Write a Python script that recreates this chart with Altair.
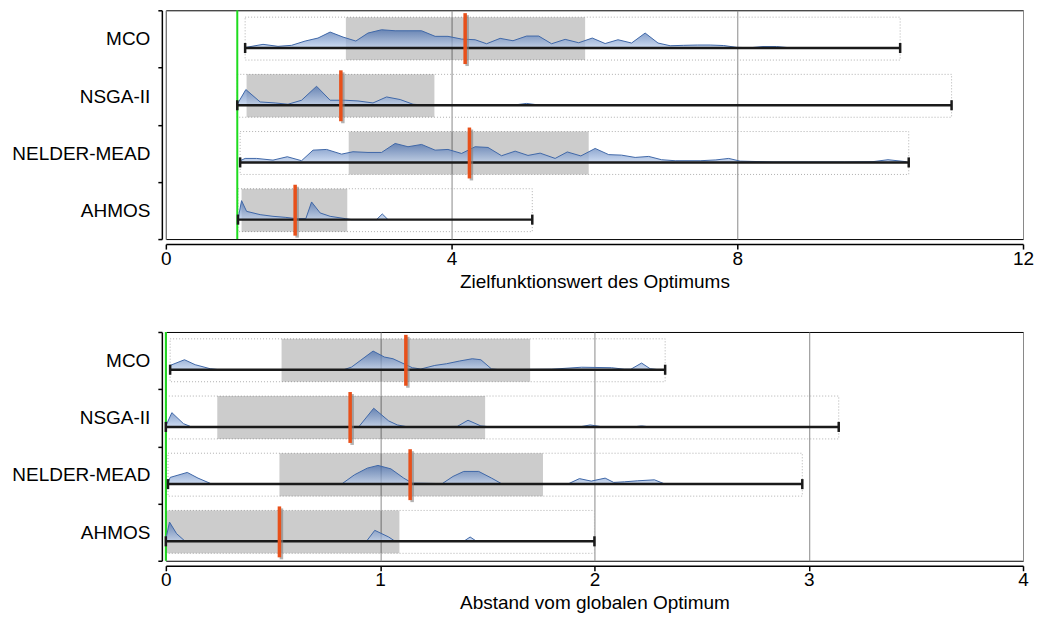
import json
import altair as alt
import pandas as pd

FONT = "Liberation Sans"
methods = ["MCO", "NSGA-II", "NELDER-MEAD", "AHMOS"]

# ---------------- Panel 1: Zielfunktionswert des Optimums ----------------
p1_min = [1.11, 1.00, 1.04, 1.01]
p1_max = [10.28, 11.00, 10.40, 5.13]
p1_q1 = [2.52, 1.13, 2.56, 1.06]
p1_q3 = [5.87, 3.76, 5.92, 2.54]
p1_med = [4.19, 2.45, 4.25, 1.81]
p1_opt = 1.0

p1_mco_x = [1.11, 1.36, 1.57, 1.76, 1.95, 2.13, 2.30, 2.48, 2.66, 2.83, 3.02, 3.21, 3.39, 3.58, 3.77,
            3.95, 4.14, 4.33, 4.49, 4.68, 4.86, 5.05, 5.22, 5.40, 5.59, 5.78, 5.97, 6.15, 6.33, 6.52,
            6.71, 6.89, 7.06, 7.25, 7.44, 7.62, 7.81, 7.99, 8.18, 8.36, 8.55, 8.73, 8.90]
p1_mco_d = [0.5, 3.7, 1.7, 2.7, 7.0, 10.0, 16.0, 11.0, 7.0, 15.0, 18.3, 17.3, 17.3, 17.3, 11.7,
            11.7, 9.0, 8.3, 4.3, 9.7, 7.3, 12.0, 12.0, 4.3, 8.7, 5.3, 10.0, 4.5, 8.3, 5.0,
            15.0, 5.0, 2.3, 2.7, 3.0, 3.0, 2.5, 0.7, 0.3, 1.5, 1.5, 0.3, 0.0]

p1_nsga_x = [1.00, 1.12, 1.32, 1.53, 1.71, 1.90, 2.11, 2.30, 2.51, 2.69, 2.90, 3.09, 3.28, 3.46, 3.66,
             4.85, 5.05, 5.25]
p1_nsga_d = [1.0, 15.7, 3.3, 2.3, 1.0, 5.0, 19.0, 5.0, 5.0, 4.3, 2.3, 8.3, 5.7, 1.0, 0.0,
             0.0, 1.8, 0.0]

p1_nm_x = [1.04, 1.11, 1.27, 1.50, 1.70, 1.90, 2.06, 2.25, 2.46, 2.62, 2.83, 3.02, 3.21, 3.39, 3.58,
           3.77, 3.95, 4.14, 4.33, 4.51, 4.70, 4.89, 5.07, 5.24, 5.45, 5.62, 5.81, 6.01, 6.20, 6.38,
           6.57, 6.76, 6.94, 7.13, 7.48, 7.70, 7.88, 8.04, 8.50, 9.00, 9.50, 9.90, 10.11, 10.37]
p1_nm_d = [1.7, 4.0, 4.0, 2.3, 5.7, 1.7, 12.3, 13.0, 8.3, 10.7, 10.0, 10.0, 19.0, 15.7, 18.0,
           12.3, 13.0, 9.0, 15.7, 15.0, 6.7, 11.3, 7.0, 9.3, 4.0, 10.5, 6.5, 14.0, 7.8, 7.3,
           5.0, 6.0, 2.7, 1.7, 1.7, 2.5, 4.0, 1.3, 0.5, 0.5, 0.5, 0.8, 2.7, 0.7]

p1_ah_x = [1.01, 1.06, 1.13, 1.32, 1.50, 1.67, 1.83, 1.96, 2.04, 2.16, 2.30, 2.51, 2.60, 2.95, 3.03, 3.11]
p1_ah_d = [0.5, 19.0, 8.3, 5.0, 3.3, 2.3, 1.0, 1.0, 17.7, 6.7, 3.3, 1.0, 0.0, 0.0, 5.7, 0.0]

# ---------------- Panel 2: Abstand vom globalen Optimum ----------------
p2_min = [0.02, 0.00, 0.01, 0.00]
p2_max = [2.33, 3.14, 2.97, 2.00]
p2_q1 = [0.54, 0.24, 0.53, 0.00]
p2_q3 = [1.70, 1.49, 1.76, 1.09]
p2_med = [1.12, 0.86, 1.14, 0.53]
p2_opt = 0.0

p2_mco_x = [0.02, 0.087, 0.137, 0.207, 0.25, 0.83, 0.867, 0.967, 1.02, 1.06, 1.15, 1.19, 1.255, 1.31,
            1.37, 1.43, 1.47, 1.52, 1.56, 1.80, 1.94, 2.08, 2.14, 2.17, 2.22, 2.26, 2.30]
p2_mco_d = [4.3, 10.0, 5.0, 1.0, 0.0, 0.0, 2.7, 18.7, 12.7, 11.0, 2.0, 0.7, 4.3, 6.0,
            8.7, 11.0, 10.0, 0.7, 0.0, 0.5, 2.5, 2.0, 0.5, 0.5, 6.7, 1.0, 0.0]

p2_nsga_x = [0.00, 0.028, 0.082, 0.12, 0.90, 0.97, 1.04, 1.08, 1.13, 1.36, 1.41, 1.47, 1.52,
             1.93, 1.98, 2.04, 2.18, 2.22, 2.26]
p2_nsga_d = [1.0, 14.3, 3.3, 0.0, 0.0, 18.7, 6.0, 2.0, 0.0, 0.5, 6.7, 1.0, 0.0,
             0.0, 2.0, 0.0, 0.0, 1.0, 0.0]

p2_nm_x = [0.01, 0.02, 0.10, 0.15, 0.21, 0.82, 0.88, 0.94, 0.99, 1.05, 1.11, 1.15, 1.29, 1.34,
           1.39, 1.46, 1.52, 1.57, 1.875, 1.93, 1.985, 2.05, 2.09, 2.14, 2.20, 2.28, 2.33]
p2_nm_d = [1.0, 6.7, 11.7, 6.0, 0.5, 0.0, 9.3, 16.0, 18.7, 15.3, 6.0, 1.0, 0.5, 7.7,
           12.7, 12.7, 6.0, 0.0, 0.0, 5.5, 3.0, 6.0, 1.7, 2.3, 3.3, 4.3, 0.0]

p2_ah_x = [0.00, 0.017, 0.05, 0.09, 0.936, 0.975, 1.04, 1.07, 1.39, 1.42, 1.45]
p2_ah_d = [2.0, 19.3, 7.7, 0.0, 0.0, 11.0, 4.3, 0.0, 0.0, 4.3, 0.0]

# ---------------- layout constants (fractions of a row band) ----------------
BOX_TOP, BOX_BOT = 0.12, 0.87
LINE_POS = 0.66
MED_TOP, MED_BOT = 0.05, 0.94
CAP_HALF = 0.088
DENS_SCALE = 1.0 / 57.25   # density units -> row units

W, H = 858, 229
IS_EDGE = "datum.value % 1 === 0"

yexpr = IS_EDGE + " ? '' : " + json.dumps(methods) + "[floor(datum.value)]"
yaxis = alt.Axis(
    values=[k / 2 for k in range(9)], labelExpr=yexpr, title=None, grid=False,
    tickOpacity={"condition": {"test": IS_EDGE, "value": 1}, "value": 0},
    labelFontSize={"condition": {"test": IS_EDGE, "value": 0}, "value": 19},
    domainColor="black", domainWidth=1.5, tickColor="black", tickWidth=1.5, tickSize=4,
    offset=4, labelPadding=8, labelColor="black", labelFont=FONT,
    labelOverlap=False, minExtent=153, maxExtent=153,
)
yscale = alt.Scale(domain=[0, 4], reverse=True, nice=False, zero=False)


def panel(mins, maxs, q1s, q3s, meds, opt, dens, domain, ticks, title):
    rows = pd.DataFrame({
        "method": methods, "i": range(4), "lo": mins, "hi": maxs,
        "q1": q1s, "q3": q3s, "med": meds,
    })
    rows["yt"] = rows["i"] + BOX_TOP
    rows["yb"] = rows["i"] + BOX_BOT
    rows["yl"] = rows["i"] + LINE_POS
    rows["mt"] = rows["i"] + MED_TOP
    rows["mb"] = rows["i"] + MED_BOT
    rows["ct"] = rows["yl"] - CAP_HALF
    rows["cb"] = rows["yl"] + CAP_HALF
    caps = pd.concat([
        rows[["method", "lo", "ct", "cb"]].rename(columns={"lo": "pos"}),
        rows[["method", "hi", "ct", "cb"]].rename(columns={"hi": "pos"}),
    ])
    dfs = []
    for i, (xs, ds) in enumerate(dens):
        dfs.append(pd.DataFrame({"method": methods[i], "x": xs,
                                 "top": [i + LINE_POS - d * DENS_SCALE for d in ds],
                                 "base": i + LINE_POS}))
    dd = pd.concat(dfs)

    xscale = alt.Scale(domain=domain, nice=False, zero=False)
    xaxis = alt.Axis(
        values=ticks, title=title, offset=5, grid=True, gridColor="#8a8a8a", gridWidth=1,
        domainColor="black", domainWidth=1.5, tickColor="black", tickWidth=1.5, tickSize=5,
        labelFlush=False, labelFontSize=19, labelColor="black", labelFont=FONT, labelPadding=0,
        titleFontSize=19, titleFontWeight="normal", titleColor="black", titleFont=FONT,
        titlePadding=4,
    )

    def X(f):
        return alt.X(f, type="quantitative", scale=xscale, axis=xaxis)

    def Y(f):
        return alt.Y(f, type="quantitative", scale=yscale, axis=yaxis)

    base = alt.Chart(rows)
    dotted = base.mark_rect(fill="white", fillOpacity=0, stroke="#b0b0b0", strokeDash=[1, 2],
                            strokeWidth=1).encode(x=X("lo"), x2="hi", y=Y("yt"), y2="yb")
    box = base.mark_rect(color="black", opacity=0.2).encode(x=X("q1"), x2="q3", y=Y("yt"), y2="yb")
    green = alt.Chart(pd.DataFrame({"opt": [opt]})).mark_rule(color="#1edc1e", strokeWidth=2).encode(
        x=X("opt"))
    area = alt.Chart(dd).mark_area(
        color=alt.Gradient(gradient="linear", x1=0, y1=0, x2=0, y2=1,
                           stops=[alt.GradientStop(color="#3f67aa", offset=0),
                                  alt.GradientStop(color="#b9cdec", offset=1)]),
        line={"color": "#3f67a8", "strokeWidth": 1},
    ).encode(x=X("x"), y=Y("top"), y2="base", detail="method")
    line = base.mark_rule(color="#1a1a1a", strokeWidth=2.5).encode(x=X("lo"), x2="hi", y=Y("yl"))
    capm = alt.Chart(caps).mark_rule(color="#1a1a1a", strokeWidth=2.5).encode(
        x=X("pos"), y=Y("ct"), y2="cb")
    shadow = base.mark_rule(color="#808080", opacity=0.6, strokeWidth=3.5, xOffset=2, yOffset=2,
                            y2Offset=2).encode(x=X("med"), y=Y("mt"), y2="mb")
    med = base.mark_rule(color="#e8501a", strokeWidth=3.5).encode(x=X("med"), y=Y("mt"), y2="mb")
    return alt.layer(dotted, box, green, area, line, capm, shadow, med).properties(width=W, height=H)


top = panel(p1_min, p1_max, p1_q1, p1_q3, p1_med, p1_opt,
            [(p1_mco_x, p1_mco_d), (p1_nsga_x, p1_nsga_d), (p1_nm_x, p1_nm_d), (p1_ah_x, p1_ah_d)],
            [0, 12], [0, 4, 8, 12], "Zielfunktionswert des Optimums")
bottom = panel(p2_min, p2_max, p2_q1, p2_q3, p2_med, p2_opt,
               [(p2_mco_x, p2_mco_d), (p2_nsga_x, p2_nsga_d), (p2_nm_x, p2_nm_d), (p2_ah_x, p2_ah_d)],
               [0, 4], [0, 1, 2, 3, 4], "Abstand vom globalen Optimum")

chart = alt.vconcat(top, bottom, spacing=38).properties(padding=0).configure_view(
    stroke="black", strokeWidth=1)

chart.save("out.html", embed_options={"renderer": "svg", "actions": False})
